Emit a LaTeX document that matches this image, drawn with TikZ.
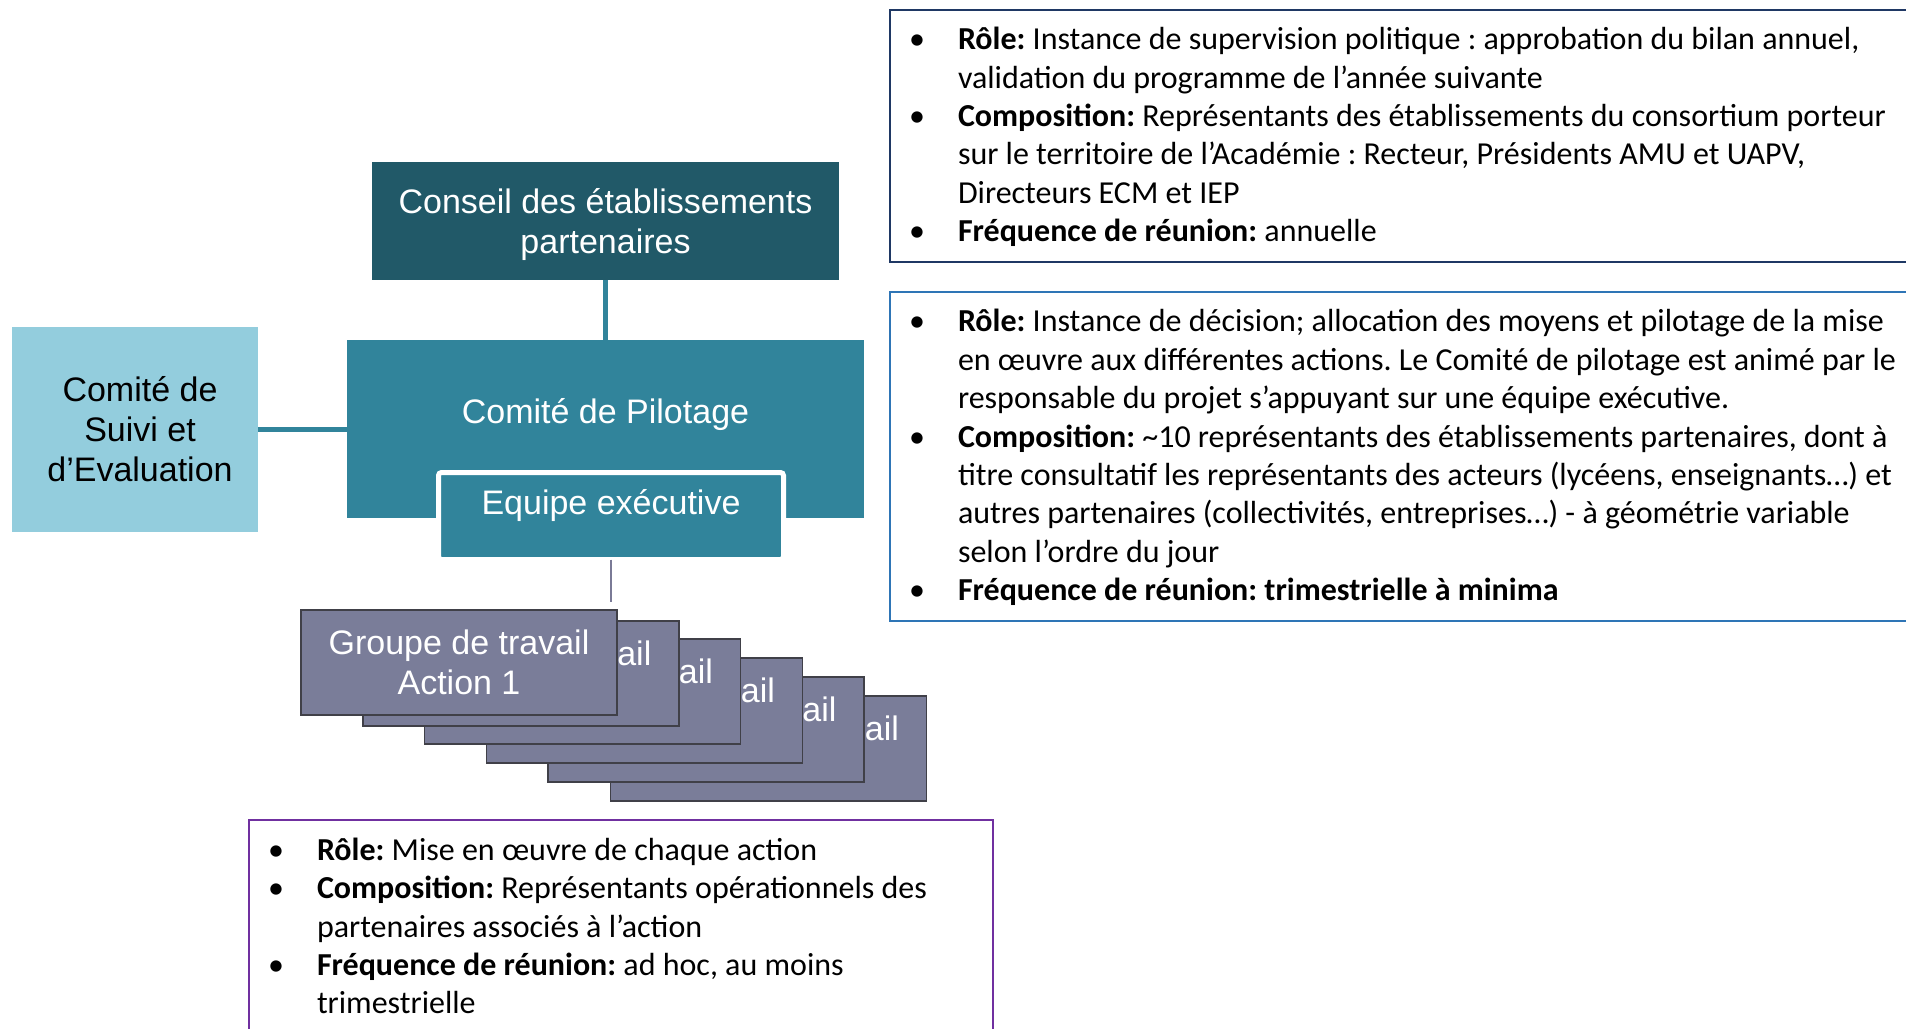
\documentclass[tikz,border=0pt]{standalone}
\usepackage{fontspec}
\setmainfont{Carlito}
\newfontfamily\arialfont{Liberation Sans}
\usetikzlibrary{positioning}
\definecolor{sarcellefonce}{RGB}{33,89,104}
\definecolor{sarcelle}{RGB}{49,132,155}
\definecolor{bleuclair}{RGB}{147,205,221}
\definecolor{grisbleu}{RGB}{122,125,153}
\definecolor{grisbord}{RGB}{64,64,72}
\definecolor{grisligne}{RGB}{122,122,150}
\definecolor{marine}{RGB}{31,56,100}
\definecolor{bleucadre}{RGB}{46,117,182}
\definecolor{violetcadre}{RGB}{112,48,160}
\tikzset{x=0.5pt, y=-0.5pt, inner sep=0pt, outer sep=0pt}
\tikzstyle{boite} = [rectangle, text=white, align=center, font=\arialfont\fontsize{17}{20}\selectfont]
\tikzstyle{groupe} = [boite, draw=grisbord, fill=grisbleu, line width=0.75pt, minimum width=158pt, minimum height=52.5pt]
\tikzstyle{liaison} = [draw=sarcelle, line width=2.5pt]
\tikzstyle{cadre} = [draw, rectangle, line width=1pt, anchor=north west]
\tikzstyle{liste} = [align=left, anchor=west, font=\fontsize{16}{19.2}\selectfont\frenchspacing]
\newcommand{\puce}{\makebox[24.5pt][l]{\textbullet}}
\newcommand{\suite}{\hspace*{24.5pt}}

\begin{document}
\begin{tikzpicture}
	\useasboundingbox (0,0) rectangle (1906,1028);

	% organigramme
	\node [boite, fill=sarcellefonce, minimum width=233.5pt, minimum height=59pt] (conseil) at (605.5,221) {};
	\node [boite] (conseil-titre) at (605.5,225) {Conseil des établissements\\partenaires};
	\node [boite, fill=sarcelle, minimum width=258.5pt, minimum height=89pt] (pilotage) at (605.5,429) {};
	\node [boite] (pilotage-titre) at (605.5,415) {Comité de Pilotage};
	\node [boite, fill=sarcelle, draw=white, line width=2.5pt, rounded corners=1.5pt, minimum width=172.5pt, minimum height=43.5pt] (equipe) at (611,516) {};
	\node [boite] (equipe-titre) at (611,506) {Equipe exécutive};
	\node [boite, text=black, fill=bleuclair, minimum width=123pt, minimum height=102.5pt] (suivi) at (135,429) {};
	\node [boite, text=black] (suivi-titre) at (140,429) {Comité de\\Suivi et\\d’Evaluation};

	\draw [liaison] (conseil) -- (pilotage);
	\draw [liaison] (suivi) -- (pilotage);

	% groupes de travail, du dernier au premier
	\foreach \k/\cx/\cy in {6/768.5/748.5, 5/706/729.5, 4/644.5/710.5, 3/582.5/691.5, 2/521/673.5, 1/459/662.5}
		\node [groupe] (groupe\k) at (\cx,\cy) {Groupe de travail\\Action \k};
	\draw [draw=grisligne, line width=1.25pt, shorten >=4pt] (equipe.south) -- (equipe.south |- groupe1.north);

	% encadres
	\node [cadre, draw=marine, minimum width=515pt, minimum height=126pt] (cadre-conseil) at (890,10) {};
	\node [liste] (texte-conseil) at (909,137) {\puce\textbf{Rôle:} Instance de supervision politique : approbation du bilan annuel,\\
		\suite validation du programme de l’année suivante\\
		\puce\textbf{Composition:} Représentants des établissements du consortium porteur\\
		\suite sur le territoire de l’Académie : Recteur, Présidents AMU et UAPV,\\
		\suite Directeurs ECM et IEP\\
		\puce\textbf{Fréquence de réunion:} annuelle};

	\node [cadre, draw=bleucadre, minimum width=515pt, minimum height=164.5pt] (cadre-pilotage) at (890,292) {};
	\node [liste] (texte-pilotage) at (909,457.5) {\puce\textbf{Rôle:} Instance de décision; allocation des moyens et pilotage de la mise\\
		\suite en œuvre aux différentes actions. Le Comité de pilotage est animé par le\\
		\suite responsable du projet s’appuyant sur une équipe exécutive.\\
		\puce\textbf{Composition:} \textasciitilde10 représentants des établissements partenaires, dont à\\
		\suite titre consultatif les représentants des acteurs (lycéens, enseignants…) et\\
		\suite autres partenaires (collectivités, entreprises…) - à géométrie variable\\
		\suite selon l’ordre du jour\\
		\puce\textbf{Fréquence de réunion: trimestrielle à minima}};

	\node [cadre, draw=violetcadre, minimum width=372pt, minimum height=110pt] (cadre-groupes) at (249,820) {};
	\node [liste] (texte-groupes) at (268,926) {\puce\textbf{Rôle:} Mise en œuvre de chaque action\\
		\puce\textbf{Composition:} Représentants opérationnels des\\
		\suite partenaires associés à l’action\\
		\puce\textbf{Fréquence de réunion:} ad hoc, au moins\\
		\suite trimestrielle};
\end{tikzpicture}
\end{document}
